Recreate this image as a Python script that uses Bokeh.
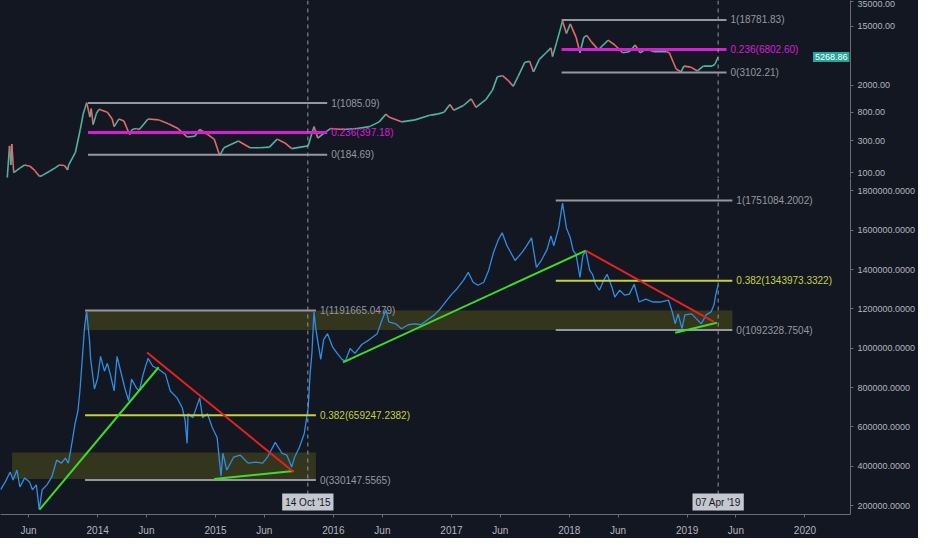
import pandas as pd
from bokeh.plotting import figure
from bokeh.layouts import column
from bokeh.models import Range1d, FixedTicker, NumeralTickFormatter, Span, Label, ColumnDataSource
from bokeh.core.properties import value
from bokeh.embed import file_html
from bokeh.resources import INLINE

# ---------------- data ----------------
btc_dates = [
    "2013-03-27", "2013-04-03", "2013-04-07", "2013-04-10", "2013-04-16", "2013-05-06", "2013-05-20",
    "2013-06-05", "2013-06-20", "2013-07-05", "2013-07-15", "2013-08-05", "2013-08-25", "2013-09-03",
    "2013-09-20", "2013-09-30", "2013-10-03", "2013-10-24", "2013-11-08", "2013-11-17", "2013-11-28",
    "2013-12-08", "2013-12-12", "2013-12-18", "2013-12-28", "2014-01-05", "2014-01-31", "2014-02-15",
    "2014-02-21", "2014-03-08", "2014-03-23", "2014-04-10", "2014-04-18", "2014-05-01", "2014-05-10",
    "2014-06-06", "2014-07-09", "2014-08-08", "2014-09-07", "2014-10-05", "2014-10-29", "2014-11-13",
    "2014-12-07", "2014-12-28", "2015-01-14", "2015-01-27", "2015-03-13", "2015-04-18", "2015-05-18",
    "2015-06-17", "2015-07-11", "2015-08-04", "2015-08-25", "2015-10-15", "2015-11-02", "2015-11-14",
    "2015-12-02", "2015-12-23", "2016-01-31", "2016-03-14", "2016-04-22", "2016-05-22", "2016-06-12",
    "2016-06-21", "2016-07-30", "2016-09-10", "2016-10-28", "2016-11-18", "2016-12-09", "2016-12-27",
    "2017-01-08", "2017-02-07", "2017-03-03", "2017-03-18", "2017-04-17", "2017-05-08", "2017-05-23",
    "2017-06-08", "2017-06-26", "2017-07-11", "2017-07-26", "2017-08-16", "2017-08-31", "2017-09-12",
    "2017-09-30", "2017-10-21", "2017-11-05", "2017-11-10", "2017-11-23", "2017-12-11", "2017-12-23",
    "2018-01-04", "2018-01-22", "2018-02-03", "2018-02-15", "2018-02-24", "2018-03-11", "2018-04-01",
    "2018-05-01", "2018-05-22", "2018-06-15", "2018-07-06", "2018-07-24", "2018-08-08", "2018-08-29",
    "2018-09-19", "2018-10-29", "2018-11-07", "2018-11-19", "2018-11-28", "2018-12-13", "2018-12-22",
    "2019-01-12", "2019-02-02", "2019-02-20", "2019-03-19", "2019-03-28", "2019-04-07",
]
btc_close = [
    85, 251, 130, 268, 100, 118, 130,
    125, 108, 88, 92, 105, 120, 130,
    128, 110, 130, 200, 439, 744, 1104,
    674, 900, 520, 760, 877, 794, 631,
    485, 631, 590, 370, 440, 454, 440,
    631, 611, 535, 454, 340, 349, 439,
    373, 316, 180, 235, 296, 235, 235,
    240, 316, 277, 228, 251, 485, 327,
    385, 454, 439, 454, 485, 571, 744,
    674, 571, 611, 720, 744, 794, 1033,
    849, 1000, 1259, 936, 1218, 1693, 2683,
    2773, 2352, 1931, 2683, 4394, 4539, 3162,
    4850, 6105, 7197, 5354, 8770, 18070, 11790,
    16380, 10340, 6105, 10340, 11040, 8770, 6740,
    9360, 7943, 6105, 6310, 7943, 6105, 6966,
    6310, 6310, 6105, 4394, 3490, 3162, 3853,
    3727, 3268, 3853, 3853, 4115, 5268.86,
]

idx_dates = [
    "2013-03-06", "2013-03-21", "2013-04-05", "2013-04-14", "2013-04-26", "2013-05-05", "2013-05-20",
    "2013-06-04", "2013-06-13", "2013-06-25", "2013-07-04", "2013-07-13", "2013-07-28", "2013-08-12",
    "2013-08-27", "2013-09-11", "2013-09-23", "2013-10-02", "2013-10-11", "2013-10-23", "2013-11-01",
    "2013-11-07", "2013-11-16", "2013-11-22", "2013-11-28", "2013-12-07", "2013-12-10", "2013-12-22",
    "2014-01-01", "2014-01-10", "2014-01-22", "2014-01-31", "2014-02-09", "2014-02-21", "2014-03-02",
    "2014-03-11", "2014-03-26", "2014-04-07", "2014-04-16", "2014-05-01", "2014-05-10", "2014-05-22",
    "2014-06-06", "2014-06-21", "2014-07-09", "2014-07-30", "2014-08-14", "2014-09-04", "2014-09-20",
    "2014-09-29", "2014-10-05", "2014-10-08", "2014-10-23", "2014-11-13", "2014-11-22", "2014-12-07",
    "2014-12-22", "2015-01-06", "2015-01-18", "2015-01-24", "2015-02-05", "2015-02-26", "2015-03-19",
    "2015-04-12", "2015-05-06", "2015-05-27", "2015-06-11", "2015-07-05", "2015-07-26", "2015-08-10",
    "2015-08-25", "2015-09-03", "2015-09-18", "2015-10-03", "2015-10-15", "2015-10-21", "2015-10-27",
    "2015-11-02", "2015-11-08", "2015-11-23", "2015-12-02", "2015-12-14", "2015-12-29", "2016-01-13",
    "2016-01-28", "2016-02-07", "2016-02-22", "2016-03-08", "2016-03-29", "2016-04-22", "2016-05-16",
    "2016-05-31", "2016-06-12", "2016-06-21", "2016-07-12", "2016-07-30", "2016-08-20", "2016-09-10",
    "2016-09-28", "2016-10-19", "2016-11-09", "2016-11-27", "2016-12-18", "2017-01-02", "2017-01-17",
    "2017-02-07", "2017-02-22", "2017-03-09", "2017-03-24", "2017-04-11", "2017-04-26", "2017-05-11",
    "2017-05-26", "2017-06-07", "2017-06-22", "2017-07-17", "2017-08-07", "2017-08-22", "2017-09-06",
    "2017-09-21", "2017-10-06", "2017-10-24", "2017-11-05", "2017-11-14", "2017-11-29", "2017-12-11",
    "2017-12-23", "2018-01-04", "2018-01-13", "2018-01-22", "2018-02-03", "2018-02-12", "2018-02-21",
    "2018-03-05", "2018-03-14", "2018-03-23", "2018-04-04", "2018-04-19", "2018-04-28", "2018-05-13",
    "2018-05-22", "2018-06-06", "2018-06-21", "2018-07-06", "2018-07-21", "2018-08-05", "2018-08-26",
    "2018-09-16", "2018-10-10", "2018-11-04", "2018-11-16", "2018-11-25", "2018-12-04", "2018-12-16",
    "2018-12-25", "2019-01-15", "2019-01-30", "2019-02-14", "2019-03-01", "2019-03-16", "2019-03-25",
    "2019-03-31", "2019-04-07",
]
idx_values = [
    280400, 320600, 370850, 330650, 380900, 295500, 340700,
    320600, 280400, 305500, 179900, 280400, 305500, 345700,
    431150, 416100, 441200, 416100, 496500, 617100, 682400,
    782900, 983900, 1119600, 1184900, 1034150, 948700, 793000,
    848200, 958800, 883400, 923600, 868300, 782900, 958800,
    898500, 798000, 732650, 843200, 798000, 782900, 868300,
    948700, 908500, 893450, 868300, 782900, 747700, 697500,
    632150, 516600, 667300, 647200, 747700, 647200, 667300,
    597000, 546700, 350750, 466300, 380900, 446200, 456300,
    416100, 421100, 416100, 446200, 521600, 466300, 456300,
    396000, 446200, 496500, 566800, 697500, 868300, 983900,
    1184900, 1094450, 943700, 1044200, 1074350, 1009000, 973850,
    943700, 933650, 999000, 973850, 1019100, 1044200, 1074350,
    1144700, 1195000, 1134650, 1124600, 1099500, 1119600, 1124600,
    1119600, 1144700, 1169800, 1200000, 1245200, 1275350, 1300500,
    1345700, 1385900, 1335600, 1320600, 1335600, 1396000, 1486400,
    1551700, 1586900, 1521600, 1446200, 1486400, 1521600, 1561800,
    1411000, 1446200, 1501500, 1571800, 1521600, 1612000, 1737700,
    1612000, 1561800, 1496500, 1476400, 1360800, 1471400, 1496500,
    1396000, 1375900, 1325600, 1295450, 1350700, 1375900, 1310500,
    1260300, 1295450, 1270300, 1275350, 1325600, 1235200, 1250200,
    1235200, 1235200, 1245200, 1184900, 1124600, 1174850, 1099500,
    1170000, 1174850, 1149700, 1124600, 1169800, 1184900, 1220100,
    1275350, 1320600,
]

x_tick_dates = ["2013-06-01", "2014-01-01", "2014-06-01", "2015-01-01", "2015-06-01", "2016-01-01",
                "2016-06-01", "2017-01-01", "2017-06-01", "2018-01-01", "2018-06-01", "2019-01-01",
                "2019-06-01", "2020-01-01"]
x_tick_labels = ["Jun", "2014", "Jun", "2015", "Jun", "2016", "Jun", "2017", "Jun", "2018", "Jun",
                 "2019", "Jun", "2020"]
top_y_ticks = [100, 300, 800, 2000, 15000, 35000]
bottom_y_ticks = [200000, 400000, 600000, 800000, 1000000, 1200000, 1400000, 1600000, 1800000]

crosshair_dates = ["2015-10-14", "2019-04-07"]
crosshair_labels = ["14 Oct '15", "07 Apr '19"]
last_price = 5268.86

# Fibonacci retracements: start, end, ratios, prices
fib_top_start = ["2013-12-02", "2017-12-08"]
fib_top_end = ["2015-12-13", "2019-05-03"]
fib_top_ratios = [[1, 0.236, 0], [1, 0.236, 0]]
fib_top_prices = [[1085.09, 397.18, 184.69], [18781.83, 6802.60, 3102.21]]

fib_bot_start = ["2013-11-23", "2017-11-20"]
fib_bot_end = ["2015-11-08", "2019-05-21"]
fib_bot_ratios = [[1, 0.382, 0], [1, 0.382, 0]]
fib_bot_prices = [[1191665.0479, 659247.2382, 330147.5565], [1751084.2002, 1343973.3322, 1092328.7504]]

# zones
zone_start = ["2013-11-23", "2013-04-11"]
zone_end = ["2019-05-21", "2015-11-08"]
zone_low = [1092328.7504, 335000]
zone_high = [1191665.0479, 470000]

# trend lines
up_start = ["2013-07-05", "2014-12-28", "2016-01-31", "2018-11-25"]
up_start_v = [179900, 335700, 928600, 1079400]
up_end = ["2014-07-09", "2015-08-31", "2018-02-21", "2019-04-03"]
up_end_v = [903500, 375900, 1496500, 1129600]
down_start = ["2014-06-03", "2018-02-21"]
down_start_v = [978900, 1496500]
down_end = ["2015-08-31", "2019-03-25"]
down_end_v = [370850, 1134650]

x_start, x_end = "2013-03-06", "2020-05-21"

# ---------------- styling ----------------
BG = "#131722"
GRID_TXT = "#b2b5be"
AXIS_LINE = "#6a6d78"
GREY = "#9598a1"
MAGENTA = "#d61ed6"
YELLOW = "#c6d13c"
GREEN = "#3ddc2a"
RED = "#e3231f"
BLUE = "#2f8de4"
UP = "#4fb3a3"
DOWN = "#e06b6b"
FONT = "Liberation Sans"
FW = 850
FH1 = 178
FH2 = 336


def ms(d):
    return pd.Timestamp(d).value / 1e6


def fib_color(r):
    if r == 0.236:
        return MAGENTA
    if r == 0.382:
        return YELLOW
    return GREY


xr = Range1d(ms(x_start), ms(x_end))

# ---------------- top pane ----------------
p1 = figure(frame_width=FW, frame_height=FH1, x_axis_type="datetime", y_axis_type="log",
            y_axis_location="right", x_range=xr, y_range=Range1d(82, 36500),
            output_backend="svg", toolbar_location=None, background_fill_color=BG,
            border_fill_color=BG, min_border_left=0, min_border_top=0, min_border_bottom=0,
            min_border_right=20)
p1.outline_line_color = None
p1.grid.visible = False
p1.xaxis.visible = False
ya = p1.yaxis[0]
ya.ticker = FixedTicker(ticks=top_y_ticks)
ya.formatter = NumeralTickFormatter(format="0.00")
ya.axis_line_color = AXIS_LINE
ya.major_tick_line_color = AXIS_LINE
ya.minor_tick_line_color = None
ya.major_tick_in = 0
ya.major_tick_out = 3
ya.major_label_standoff = 4
ya.major_label_text_color = GRID_TXT
ya.major_label_text_font = FONT
ya.major_label_text_font_size = "9px"

bd = [ms(d) for d in btc_dates]
seg = ColumnDataSource(dict(
    x0=bd[:-1], x1=bd[1:], y0=btc_close[:-1], y1=btc_close[1:],
    c=[UP if b >= a else DOWN for a, b in zip(btc_close[:-1], btc_close[1:])]))
p1.segment("x0", "y0", "x1", "y1", source=seg, line_color="c", line_width=1.6)

tv, tc, tt, tw, ts, te = [], [], [], [], [], []
for s, e, rs, vs in zip(fib_top_start, fib_top_end, fib_top_ratios, fib_top_prices):
    for r, v in zip(rs, vs):
        ts.append(ms(s)); te.append(ms(e)); tv.append(v); tc.append(fib_color(r))
        tt.append(f"{r:g}({v:.2f})"); tw.append(3 if r == 0.236 else 2)
p1.segment(x0=ts, x1=te, y0=tv, y1=tv, line_color=tc, line_width=tw)
p1.text(x=te, y=tv, text=tt, text_color=tc, text_font=value(FONT), text_font_size="10px",
        text_baseline="middle", x_offset=4)

for d in crosshair_dates:
    p1.add_layout(Span(location=ms(d), dimension="height", line_color=GREY,
                       line_dash="4 4", line_width=1))
p1.add_layout(Span(location=82, dimension="width", line_color=AXIS_LINE, line_width=1))
p1.add_layout(Label(x=FW - 1, x_units="screen", y=last_price, y_units="data",
                    text=f"{last_price:.2f}", text_align="right", text_baseline="middle",
                    text_color="white", text_font=FONT, text_font_size="9px",
                    background_fill_color="#26a69a", padding=2))

# ---------------- bottom pane ----------------
p2 = figure(frame_width=FW, frame_height=FH2, x_axis_type="datetime",
            y_axis_location="right", x_range=xr, y_range=Range1d(154775, 1863275),
            output_backend="svg", toolbar_location=None, background_fill_color=BG,
            border_fill_color=BG, min_border_left=0, min_border_top=0, min_border_bottom=0,
            min_border_right=0)
p2.outline_line_color = None
p2.grid.visible = False
ya2 = p2.yaxis[0]
ya2.ticker = FixedTicker(ticks=bottom_y_ticks)
ya2.formatter = NumeralTickFormatter(format="0.0000")
ya2.axis_line_color = AXIS_LINE
ya2.major_tick_line_color = AXIS_LINE
ya2.minor_tick_line_color = None
ya2.major_tick_in = 0
ya2.major_tick_out = 3
ya2.major_label_standoff = 4
ya2.major_label_text_color = GRID_TXT
ya2.major_label_text_font = FONT
ya2.major_label_text_font_size = "9px"

xa = p2.xaxis[0]
xa.ticker = FixedTicker(ticks=[ms(d) for d in x_tick_dates])
xa.major_label_overrides = {ms(d): lab for d, lab in zip(x_tick_dates, x_tick_labels)}
xa.axis_line_color = AXIS_LINE
xa.major_tick_line_color = AXIS_LINE
xa.minor_tick_line_color = None
xa.major_tick_in = 0
xa.major_tick_out = 3
xa.major_label_standoff = 7
xa.major_label_text_color = GRID_TXT
xa.major_label_text_font = FONT
xa.major_label_text_font_size = "10px"

p2.quad(left=[ms(d) for d in zone_start], right=[ms(d) for d in zone_end], bottom=zone_low,
        top=zone_high, fill_color="#8a8a10", fill_alpha=0.28, line_color=None)

p2.line([ms(d) for d in idx_dates], idx_values, line_color=BLUE, line_width=1.3)

bv, bc, bt, bs, be = [], [], [], [], []
for s, e, rs, vs in zip(fib_bot_start, fib_bot_end, fib_bot_ratios, fib_bot_prices):
    for r, v in zip(rs, vs):
        bs.append(ms(s)); be.append(ms(e)); bv.append(v); bc.append(fib_color(r))
        bt.append(f"{r:g}({v:.4f})")
p2.segment(x0=bs, x1=be, y0=bv, y1=bv, line_color=bc, line_width=2)
p2.text(x=be, y=bv, text=bt, text_color=bc, text_font=value(FONT), text_font_size="10px",
        text_baseline="middle", x_offset=4)

p2.segment(x0=[ms(d) for d in up_start], y0=up_start_v, x1=[ms(d) for d in up_end], y1=up_end_v,
           line_color=GREEN, line_width=2)
p2.segment(x0=[ms(d) for d in down_start], y0=down_start_v, x1=[ms(d) for d in down_end],
           y1=down_end_v, line_color=RED, line_width=2)

for d, lab in zip(crosshair_dates, crosshair_labels):
    p2.add_layout(Span(location=ms(d), dimension="height", line_color=GREY,
                       line_dash="4 4", line_width=1))
    p2.add_layout(Label(x=ms(d), y=4, x_units="data", y_units="screen", text=lab,
                        text_align="center", text_baseline="bottom", text_color=BG,
                        text_font=FONT, text_font_size="10px",
                        background_fill_color="#c4c7cf", padding=3))

layout = column(p1, p2, styles={"background-color": BG})
open("out.html", "w").write(file_html(layout, INLINE))
